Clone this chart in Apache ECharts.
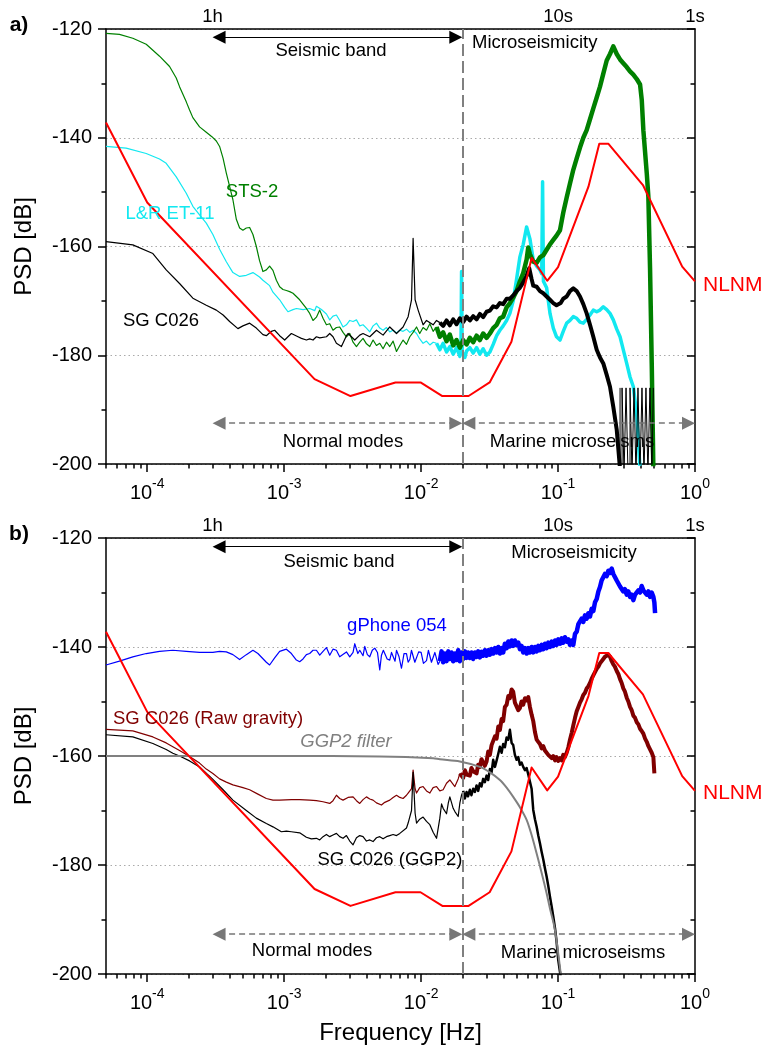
<!DOCTYPE html>
<html>
<head>
<meta charset="utf-8">
<script src="https://cdn.jsdelivr.net/npm/echarts@6.0.0/dist/echarts.min.js"></script>
<style>
html, body { margin: 0; padding: 0; background: #fff; }
#chart { width: 765px; height: 1050px; }
</style>
</head>
<body>
<div id="chart"></div>
<script>
var FONT = '"Liberation Sans", Arial, sans-serif';

// axes
var xMajorTicks = [1e-4, 1e-3, 1e-2, 1e-1, 1];
var xMinorTicks = [5e-5, 6e-5, 7e-5, 8e-5, 9e-5,
    2e-4, 3e-4, 4e-4, 5e-4, 6e-4, 7e-4, 8e-4, 9e-4,
    2e-3, 3e-3, 4e-3, 5e-3, 6e-3, 7e-3, 8e-3, 9e-3,
    2e-2, 3e-2, 4e-2, 5e-2, 6e-2, 7e-2, 8e-2, 9e-2,
    0.2, 0.3, 0.4, 0.5, 0.6, 0.7, 0.8, 0.9];
var periodTicks = [3e-4, 0.1, 1];
var periodLabels = ['1h', '10s', '1s'];
var bandEdges = [3e-4, 0.02];

// New Low Noise Model (both panels)
var nlnmFreq = [5e-5, 1e-4, 1.667e-3, 3.049e-3, 6.494e-3, 9.901e-3, 1.429e-2, 2.222e-2, 3.165e-2, 4.566e-2,
    6.410e-2, 8.333e-2, 0.1, 0.1667, 0.2, 0.2326, 0.4167, 0.8065, 1];
var nlnmPsd = [-137.2, -151.9, -184.4, -187.5, -185.0, -185.0, -187.5, -187.5, -185.0, -177.5,
    -162.1, -166.3, -163.8, -149.0, -141.1, -141.1, -148.7, -163.7, -166.4];

// panel a: STS-2
var sts2Low = [[5e-5,-120.8],[6.27e-5,-121.0],[7.85e-5,-121.7],[9.83e-5,-122.8],[1.10e-4,-123.9],[1.23e-4,-125.0],
    [1.456e-4,-126.9],[1.629e-4,-129.0],[1.722e-4,-130.6],[1.928e-4,-133.4],[2.038e-4,-134.9],[2.154e-4,-136.3],
    [2.411e-4,-138.0],[2.699e-4,-139.0],[2.966e-4,-139.8],[3.195e-4,-140.6],[3.377e-4,-141.6],[3.581e-4,-143.8],
    [3.781e-4,-146.5],[4.0e-4,-149.0],[4.224e-4,-151.4],[4.473e-4,-155.0],[4.728e-4,-156.6],[4.997e-4,-157.0],
    [5.292e-4,-156.6],[5.596e-4,-156.5],[5.915e-4,-157.8],[6.262e-4,-160.0],[6.61e-4,-162.6],[6.998e-4,-164.6],
    [7.41e-4,-164.3],[7.83e-4,-163.6],[8.28e-4,-164.4],[8.77e-4,-166.2],[9.27e-4,-167.4],[9.8e-4,-167.9],
    [1.038e-3,-168.1],[1.097e-3,-168.3],[1.16e-3,-168.6],[1.228e-3,-169.2],[1.298e-3,-169.8],[1.373e-3,-170.6],
    [1.453e-3,-171.4],[1.536e-3,-172.3],[1.624e-3,-173.6],[1.671e-3,-173.8],[1.72e-3,-173.0],[1.818e-3,-171.7],
    [1.922e-3,-173.2],[2.035e-3,-174.4],[2.151e-3,-174.2],[2.273e-3,-175.4],[2.407e-3,-174.9],[2.544e-3,-174.8],
    [2.69e-3,-175.8],[2.849e-3,-176.6],[3.012e-3,-176.0],[3.185e-3,-177.6],[3.372e-3,-178.4],[3.564e-3,-177.6],
    [3.767e-3,-176.9],[3.989e-3,-177.9],[4.217e-3,-178.4],[4.458e-3,-177.2],[4.72e-3,-178.2],[4.99e-3,-177.8],
    [5.275e-3,-178.8],[5.587e-3,-177.6],[5.904e-3,-178.4],[6.243e-3,-177.4],[6.611e-3,-179.3],[6.99e-3,-178.2],
    [7.385e-3,-177.2],[7.82e-3,-178.0],[8.27e-3,-176.6],[8.74e-3,-175.8],[9.26e-3,-174.8],[9.77e-3,-176.0],
    [1.034e-2,-174.9],[1.095e-2,-175.4],[1.158e-2,-174.2],[1.224e-2,-175.6],[1.296e-2,-174.8]];
var sts2High = [[1.296e-2,-174.8],[1.37e-2,-176.6],[1.448e-2,-175.8],[1.533e-2,-177.4],[1.621e-2,-176.2],[1.714e-2,-178.2],
    [1.815e-2,-177.2],[1.919e-2,-178.6],[2.028e-2,-177.2],[2.147e-2,-178.0],[2.27e-2,-176.8],[2.4e-2,-177.6],
    [2.541e-2,-176.4],[2.686e-2,-177.2],[2.839e-2,-176.0],[3.007e-2,-176.8],[3.178e-2,-176.0],[3.36e-2,-175.0],
    [3.561e-2,-174.4],[3.761e-2,-173.2],[3.975e-2,-172.9],[4.21e-2,-171.2],[4.45e-2,-170.4],[4.705e-2,-169.4],
    [4.981e-2,-168.2],[5.266e-2,-166.4],[5.567e-2,-164.9],[5.895e-2,-162.4],[6.056e-2,-160.2],[6.231e-2,-161.4],
    [6.59e-2,-162.8],[6.977e-2,-163.0],[7.375e-2,-162.0],[7.8e-2,-161.6],[8.25e-2,-160.6],[8.73e-2,-159.6],
    [9.23e-2,-158.8],[9.75e-2,-158.0],[0.1033,-157.0],[0.1091,-153.8],[0.1156,-151.0],[0.1222,-148.4],
    [0.1292,-145.9],[0.1368,-143.8],[0.1446,-141.8],[0.1529,-140.0],[0.1618,-138.6],[0.1711,-136.6],
    [0.1809,-134.6],[0.1915,-132.6],[0.2024,-130.6],[0.214,-128.2],[0.2266,-125.8],[0.2395,-124.6],
    [0.2532,-123.2],[0.2682,-124.6],[0.2836,-125.6],[0.2996,-126.3],[0.3172,-127.0],[0.3354,-127.8],
    [0.3546,-128.4],[0.3755,-129.2],[0.397,-130.2],[0.4084,-133.0],[0.4196,-138.6],[0.4443,-146.5],
    [0.4564,-150.8],[0.4696,-164.0],[0.4832,-181.5],[0.4966,-201]];

// panel a: L&R ET-11
var etLow = [[5e-5,-141.6],[7.02e-5,-141.9],[9.83e-5,-142.9],[1.23e-4,-143.9],[1.376e-4,-144.7],[1.629e-4,-147.2],
    [1.928e-4,-150.2],[2.154e-4,-152.6],[2.411e-4,-154.2],[2.699e-4,-155.7],[3.016e-4,-157.8],[3.377e-4,-160.5],
    [3.781e-4,-162.8],[4.224e-4,-164.8],[4.728e-4,-165.5],[5.292e-4,-165.3],[5.915e-4,-164.8],[6.61e-4,-165.6],
    [6.998e-4,-166.2],[7.83e-4,-167.2],[8.28e-4,-168.4],[9.27e-4,-169.8],[1.009e-3,-171.2],[1.066e-3,-172.0],
    [1.16e-3,-171.6],[1.228e-3,-171.4],[1.373e-3,-171.6],[1.536e-3,-171.4],[1.671e-3,-171.8],[1.72e-3,-171.0],
    [1.871e-3,-171.6],[2.035e-3,-172.4],[2.151e-3,-173.5],[2.273e-3,-172.8],[2.407e-3,-172.6],[2.544e-3,-173.6],
    [2.69e-3,-174.8],[2.849e-3,-174.4],[3.012e-3,-173.6],[3.185e-3,-173.8],[3.372e-3,-173.5],[3.564e-3,-174.6],
    [3.767e-3,-174.4],[3.989e-3,-175.0],[4.217e-3,-175.7],[4.458e-3,-174.6],[4.72e-3,-174.1],[4.99e-3,-175.0],
    [5.275e-3,-175.4],[5.587e-3,-174.9],[5.904e-3,-175.7],[6.243e-3,-175.4],[6.611e-3,-175.9],[6.99e-3,-175.4],
    [7.385e-3,-175.6],[7.82e-3,-175.2],[8.27e-3,-175.8],[8.74e-3,-175.4],[9.26e-3,-176.0],[9.77e-3,-177.0],
    [1.034e-2,-177.8],[1.095e-2,-177.4],[1.158e-2,-178.1],[1.224e-2,-177.6],[1.296e-2,-177.8]];
var etHigh = [[1.296e-2,-177.8],[1.37e-2,-179.0],[1.448e-2,-177.8],[1.533e-2,-179.4],[1.621e-2,-178.4],[1.714e-2,-179.8],
    [1.815e-2,-178.6],[1.919e-2,-180.2],[1.955e-2,-178.8],[1.974e-2,-164.6],[1.995e-2,-179.4],[2.088e-2,-180.4],
    [2.147e-2,-179.2],[2.27e-2,-178.6],[2.4e-2,-179.6],[2.541e-2,-178.6],[2.686e-2,-179.8],[2.839e-2,-178.8],
    [3.007e-2,-180.0],[3.178e-2,-179.4],[3.36e-2,-178.0],[3.561e-2,-176.4],[3.761e-2,-175.4],[3.975e-2,-174.6],
    [4.21e-2,-173.6],[4.45e-2,-172.3],[4.705e-2,-170.0],[4.981e-2,-166.0],[5.266e-2,-161.9],[5.567e-2,-159.6],
    [5.895e-2,-156.4],[6.231e-2,-158.6],[6.59e-2,-162.5],[6.977e-2,-163.6],[7.375e-2,-164.3],[7.6e-2,-165.0],
    [7.71e-2,-148.1],[7.82e-2,-166.4],[8.25e-2,-167.6],[8.73e-2,-172.3],[9.23e-2,-175.0],[9.75e-2,-176.6],
    [0.1033,-177.2],[0.1091,-175.6],[0.1156,-174.1],[0.1222,-173.6],[0.1292,-172.9],[0.1368,-173.2],
    [0.1446,-173.9],[0.1529,-174.1],[0.1618,-173.4],[0.1711,-172.6],[0.1809,-171.7],[0.1915,-172.0],
    [0.2024,-171.7],[0.214,-171.1],[0.2266,-171.6],[0.2395,-172.3],[0.2532,-173.5],[0.2682,-175.2],
    [0.2836,-176.6],[0.2996,-179.0],[0.3172,-181.5],[0.3354,-184.0],[0.3546,-185.8],[0.3755,-191.0],[0.397,-201]];

// panel a: SG C026
var sgLow = [[5e-5,-159.1],[7.85e-5,-159.7],[1.10e-4,-161.3],[1.376e-4,-164.3],[1.722e-4,-166.8],[2.154e-4,-169.5],
    [2.699e-4,-170.8],[3.195e-4,-171.7],[3.581e-4,-172.6],[3.996e-4,-173.8],[4.595e-4,-175.1],[4.997e-4,-174.6],
    [5.596e-4,-174.1],[6.262e-4,-175.0],[6.998e-4,-176.2],[7.41e-4,-176.4],[8.06e-4,-175.6],[8.52e-4,-175.4],
    [9.27e-4,-176.4],[1.009e-3,-177.2],[1.066e-3,-176.6],[1.129e-3,-176.0],[1.262e-3,-176.6],[1.336e-3,-176.9],
    [1.453e-3,-177.2],[1.536e-3,-177.0],[1.624e-3,-177.2],[1.72e-3,-176.6],[1.818e-3,-176.8],[2.035e-3,-176.6],
    [2.151e-3,-176.0],[2.273e-3,-176.6],[2.407e-3,-177.8],[2.619e-3,-178.4],[2.849e-3,-176.4],[2.927e-3,-176.0],
    [3.277e-3,-177.2],[3.564e-3,-176.3],[3.767e-3,-176.0],[4.217e-3,-176.6],[4.72e-3,-175.4],[5.275e-3,-176.3],
    [5.904e-3,-174.8],[6.611e-3,-176.0],[7.385e-3,-174.8],[8.04e-3,-172.9],[8.51e-3,-169.8],[8.74e-3,-158.5],
    [9.04e-3,-169.8],[9.51e-3,-171.7],[1.034e-2,-174.4],[1.095e-2,-173.6],[1.224e-2,-174.4],[1.296e-2,-173.6],
    [1.37e-2,-174.0]];
var sgHigh = [[1.37e-2,-174.0],[1.448e-2,-174.6],[1.533e-2,-173.6],[1.621e-2,-174.5],[1.714e-2,-173.4],[1.815e-2,-174.3],
    [1.919e-2,-173.2],[2.028e-2,-173.9],[2.147e-2,-172.9],[2.27e-2,-173.6],[2.4e-2,-172.8],[2.541e-2,-173.4],
    [2.686e-2,-172.4],[2.839e-2,-173.0],[3.007e-2,-172.0],[3.178e-2,-171.8],[3.36e-2,-171.0],[3.561e-2,-171.2],
    [3.761e-2,-170.4],[3.975e-2,-170.6],[4.21e-2,-169.6],[4.45e-2,-169.6],[4.705e-2,-169.0],[4.981e-2,-168.2],
    [5.266e-2,-167.6],[5.567e-2,-166.6],[5.895e-2,-165.4],[6.16e-2,-164.0],[6.412e-2,-166.0],[6.59e-2,-167.2],
    [6.977e-2,-167.4],[7.375e-2,-168.2],[7.8e-2,-168.6],[8.25e-2,-169.2],[8.73e-2,-169.8],[9.23e-2,-170.4],
    [9.75e-2,-170.8],[0.1003,-171.1],[0.1045,-170.4],[0.1091,-169.6],[0.1156,-169.2],[0.1222,-168.2],
    [0.1292,-167.7],[0.1368,-168.2],[0.1446,-169.2],[0.1529,-170.6],[0.1618,-172.3],[0.1711,-174.4],
    [0.1809,-176.6],[0.1915,-179.0],[0.2024,-180.4],[0.214,-181.5],[0.2266,-183.6],[0.2395,-185.8],
    [0.2532,-189.5],[0.2682,-193.7],[0.2836,-201]];
var sgComb = [[0.2836,-186],[0.2836,-202],[0.2933,-202],[0.2933,-186],[0.3033,-186],[0.3033,-202],[0.3136,-202],
    [0.3136,-186],[0.3243,-186],[0.3243,-202],[0.3354,-202],[0.3354,-186],[0.3468,-186],[0.3468,-202],
    [0.3586,-202],[0.3586,-186],[0.3708,-186],[0.3708,-202],[0.3834,-202],[0.3834,-186],[0.3965,-186],
    [0.3965,-202],[0.41,-202],[0.41,-186],[0.424,-186],[0.424,-202],[0.4384,-202],[0.4384,-186],
    [0.4533,-186],[0.4533,-202],[0.4688,-202],[0.4688,-186],[0.4848,-186],[0.4848,-202],[0.4966,-202],[0.4966,-186]];

// panel b: gPhone 054
var gphLow = [[5e-5,-143.3],[6.27e-5,-142.6],[7.85e-5,-141.8],[9.83e-5,-141.2],[1.23e-4,-140.8],[1.538e-4,-140.6],
    [1.928e-4,-140.8],[2.411e-4,-141.0],[3.016e-4,-141.0],[3.377e-4,-140.8],[3.781e-4,-140.9],[4.224e-4,-141.4],
    [4.728e-4,-142.3],[5.292e-4,-141.4],[5.915e-4,-140.6],[6.43e-4,-141.2],[7.41e-4,-142.8],[7.83e-4,-143.3],
    [8.52e-4,-142.0],[9.27e-4,-140.8],[1.038e-3,-140.4],[1.129e-3,-141.2],[1.228e-3,-142.4],[1.298e-3,-142.7],
    [1.373e-3,-142.2],[1.453e-3,-141.4],[1.536e-3,-141.2],[1.624e-3,-140.6],[1.72e-3,-140.6],[1.818e-3,-141.5],
    [1.871e-3,-141.5],[1.922e-3,-140.8],[2.035e-3,-140.1],[2.151e-3,-141.5],[2.273e-3,-140.4],[2.407e-3,-140.6],
    [2.544e-3,-141.8],[2.619e-3,-142.1],[2.849e-3,-140.9],[3.012e-3,-141.8],[3.185e-3,-141.0],[3.277e-3,-139.4],
    [3.45e-3,-141.2],[3.564e-3,-140.6],[3.767e-3,-141.6],[3.877e-3,-139.9],[4.05e-3,-141.4],[4.217e-3,-141.8],
    [4.4e-3,-140.6],[4.588e-3,-140.2],[4.8e-3,-141.0],[4.99e-3,-144.2],[5.134e-3,-141.5],[5.3e-3,-140.6],
    [5.428e-3,-140.9],[5.65e-3,-142.2],[5.904e-3,-142.4],[6.08e-3,-141.0],[6.243e-3,-141.0],[6.45e-3,-142.6],
    [6.611e-3,-140.6],[6.9e-3,-141.8],[7.19e-3,-143.9],[7.5e-3,-141.2],[7.82e-3,-141.2],[8.04e-3,-142.8],
    [8.27e-3,-142.3],[8.5e-3,-140.6],[8.74e-3,-140.8],[9.0e-3,-142.8],[9.26e-3,-142.6],[9.6e-3,-140.9],
    [1.0e-2,-141.0],[1.04e-2,-143.0],[1.095e-2,-142.5],[1.13e-2,-140.6],[1.158e-2,-140.9],[1.19e-2,-142.8],
    [1.224e-2,-143.0],[1.26e-2,-141.0],[1.296e-2,-141.2],[1.33e-2,-143.2],[1.37e-2,-142.6]];
var gphHigh = [[1.37e-2,-142.6],[1.41e-2,-140.8],[1.448e-2,-142.8],[1.49e-2,-141.2],[1.533e-2,-142.6],[1.58e-2,-140.8],
    [1.621e-2,-142.2],[1.67e-2,-141.0],[1.714e-2,-142.6],[1.765e-2,-141.2],[1.815e-2,-142.4],[1.865e-2,-140.6],
    [1.919e-2,-142.6],[1.974e-2,-141.0],[2.028e-2,-142.2],[2.088e-2,-140.8],[2.147e-2,-142.0],[2.2e-2,-141.0],
    [2.27e-2,-142.0],[2.33e-2,-141.0],[2.4e-2,-142.2],[2.47e-2,-141.0],[2.541e-2,-141.8],[2.61e-2,-140.8],
    [2.686e-2,-141.9],[2.76e-2,-140.9],[2.839e-2,-141.6],[2.92e-2,-140.6],[3.007e-2,-141.6],[3.09e-2,-140.6],
    [3.178e-2,-141.4],[3.27e-2,-140.4],[3.36e-2,-141.2],[3.46e-2,-140.2],[3.561e-2,-141.0],[3.66e-2,-140.0],
    [3.761e-2,-141.2],[3.87e-2,-140.2],[3.975e-2,-141.0],[4.09e-2,-139.4],[4.21e-2,-140.2],[4.33e-2,-139.0],
    [4.45e-2,-139.9],[4.58e-2,-138.8],[4.705e-2,-139.8],[4.84e-2,-138.8],[4.981e-2,-139.6],[5.12e-2,-139.2],
    [5.266e-2,-140.4],[5.41e-2,-139.8],[5.567e-2,-141.0],[5.73e-2,-140.2],[5.895e-2,-141.2],[6.06e-2,-140.2],
    [6.231e-2,-141.0],[6.41e-2,-140.0],[6.59e-2,-141.0],[6.78e-2,-140.0],[6.977e-2,-140.8],[7.17e-2,-139.8],
    [7.375e-2,-140.6],[7.59e-2,-139.6],[7.8e-2,-140.4],[8.02e-2,-139.4],[8.25e-2,-140.2],[8.48e-2,-139.2],
    [8.73e-2,-140.0],[8.98e-2,-139.0],[9.23e-2,-139.8],[9.5e-2,-138.8],[9.75e-2,-139.6],[0.1003,-138.6],
    [0.1033,-139.4],[0.1062,-138.4],[0.1091,-139.2],[0.1122,-138.2],[0.1156,-139.0],[0.1189,-138.6],
    [0.1222,-139.6],[0.1256,-138.8],[0.1292,-139.6],[0.133,-137.6],[0.1368,-137.2],[0.1407,-135.8],
    [0.1446,-136.0],[0.1487,-134.8],[0.1529,-135.4],[0.1573,-134.2],[0.1618,-134.8],[0.1664,-133.8],
    [0.1711,-134.4],[0.176,-133.0],[0.1809,-133.4],[0.1861,-131.8],[0.1915,-131.2],[0.197,-129.8],
    [0.2024,-129.0],[0.208,-127.8],[0.214,-127.8],[0.22,-126.6],[0.2266,-127.0],[0.233,-126.0],
    [0.2395,-126.4],[0.2465,-125.6],[0.2532,-126.6],[0.26,-126.8],[0.2682,-127.8],[0.276,-127.6],
    [0.2836,-128.9],[0.2915,-128.6],[0.2996,-129.8],[0.308,-129.4],[0.3172,-130.4],[0.326,-129.8],
    [0.3354,-130.8],[0.345,-130.4],[0.3546,-131.4],[0.365,-130.4],[0.3755,-130.6],[0.386,-129.6],
    [0.397,-130.0],[0.408,-128.8],[0.4196,-129.6],[0.432,-129.4],[0.4443,-130.4],[0.457,-129.8],
    [0.4696,-130.8],[0.483,-130.0],[0.4966,-130.8],[0.505,-131.8],[0.511,-133.8]];

// panel b: GGP2 filter response
var ggp2Filter = [[5e-5,-160.0],[1e-3,-160.0],[5e-3,-160.1],[1.224e-2,-160.4],[1.37e-2,-160.6],[1.919e-2,-161.0],
    [2.686e-2,-162.0],[3.178e-2,-163.0],[3.761e-2,-164.4],[4.21e-2,-165.8],[4.705e-2,-167.5],[5.266e-2,-169.4],
    [5.895e-2,-171.7],[6.412e-2,-174.5],[6.977e-2,-177.9],[7.6e-2,-181.5],[8.25e-2,-185.2],[8.73e-2,-188.0],
    [9.49e-2,-191.9],[0.1045,-199.9]];

// panel b: SG C026 raw gravity
var rawLow = [[5e-5,-155.1],[7.85e-5,-155.4],[1.10e-4,-156.5],[1.376e-4,-157.6],[1.538e-4,-158.3],[1.722e-4,-159.0],
    [2.038e-4,-160.1],[2.411e-4,-161.3],[2.699e-4,-162.4],[3.016e-4,-163.2],[3.377e-4,-164.2],[3.781e-4,-164.8],
    [4.224e-4,-165.3],[4.997e-4,-165.8],[5.596e-4,-166.2],[6.43e-4,-167.0],[7.41e-4,-167.8],[8.28e-4,-168.1],
    [9.27e-4,-168.1],[1.129e-3,-168.0],[1.298e-3,-168.0],[1.536e-3,-168.1],[1.72e-3,-168.2],[1.922e-3,-168.4],
    [2.151e-3,-168.7],[2.273e-3,-168.2],[2.407e-3,-167.2],[2.544e-3,-167.8],[2.69e-3,-168.1],[2.927e-3,-167.6],
    [3.185e-3,-167.5],[3.372e-3,-168.2],[3.564e-3,-168.7],[3.767e-3,-168.0],[3.989e-3,-167.5],[4.217e-3,-167.9],
    [4.458e-3,-168.1],[4.72e-3,-168.6],[5.134e-3,-169.0],[5.428e-3,-168.5],[5.904e-3,-168.1],[6.243e-3,-167.6],
    [6.611e-3,-167.2],[6.99e-3,-167.6],[7.385e-3,-167.8],[7.82e-3,-167.2],[8.04e-3,-166.8],[8.51e-3,-166.0],
    [8.74e-3,-162.6],[9.04e-3,-166.0],[9.26e-3,-166.8],[9.77e-3,-165.8],[1.034e-2,-165.6],[1.095e-2,-166.4],
    [1.158e-2,-166.8],[1.224e-2,-165.8],[1.296e-2,-165.6],[1.37e-2,-166.4],[1.448e-2,-166.2],[1.533e-2,-165.0],
    [1.621e-2,-164.4],[1.714e-2,-165.2],[1.764e-2,-165.6],[1.865e-2,-164.2],[1.919e-2,-163.2]];
var rawHigh = [[1.919e-2,-163.2],[2.028e-2,-164.0],[2.088e-2,-162.6],[2.147e-2,-163.4],[2.27e-2,-163.6],[2.33e-2,-162.2],
    [2.4e-2,-162.8],[2.541e-2,-163.2],[2.61e-2,-161.6],[2.686e-2,-162.0],[2.76e-2,-160.6],[2.839e-2,-160.9],
    [2.92e-2,-161.8],[3.007e-2,-161.0],[3.09e-2,-159.2],[3.178e-2,-159.8],[3.27e-2,-158.0],[3.36e-2,-157.9],
    [3.46e-2,-156.4],[3.561e-2,-156.8],[3.66e-2,-154.6],[3.761e-2,-155.2],[3.87e-2,-153.2],[3.975e-2,-153.6],
    [4.09e-2,-151.0],[4.21e-2,-150.6],[4.33e-2,-149.0],[4.45e-2,-149.4],[4.58e-2,-147.8],[4.705e-2,-148.2],
    [4.84e-2,-150.2],[4.981e-2,-150.4],[5.12e-2,-151.6],[5.266e-2,-151.2],[5.41e-2,-150.0],[5.567e-2,-150.6],
    [5.73e-2,-149.4],[5.895e-2,-149.8],[6.06e-2,-149.2],[6.231e-2,-151.0],[6.41e-2,-152.4],[6.59e-2,-153.6],
    [6.78e-2,-155.6],[6.977e-2,-157.0],[7.17e-2,-157.4],[7.375e-2,-157.8],[7.59e-2,-158.6],[7.8e-2,-158.2],
    [8.02e-2,-159.0],[8.25e-2,-158.9],[8.48e-2,-159.8],[8.73e-2,-159.6],[8.98e-2,-160.4],[9.23e-2,-160.0],
    [9.5e-2,-160.8],[9.75e-2,-160.2],[0.1003,-160.9],[0.1033,-160.4],[0.1062,-160.8],[0.1091,-159.8],
    [0.1122,-160.2],[0.1156,-159.4],[0.1189,-158.4],[0.1222,-157.0],[0.1256,-155.8],[0.1292,-154.4],
    [0.133,-153.0],[0.1368,-151.8],[0.1407,-151.0],[0.1446,-150.2],[0.1487,-149.6],[0.1529,-148.8],
    [0.1573,-148.4],[0.1618,-147.6],[0.1664,-147.2],[0.1711,-146.6],[0.176,-145.8],[0.1809,-145.2],
    [0.1861,-144.6],[0.1915,-144.0],[0.197,-143.6],[0.2024,-143.0],[0.208,-142.8],[0.214,-142.2],
    [0.22,-141.8],[0.2266,-141.6],[0.233,-141.4],[0.2395,-141.8],[0.2465,-142.6],[0.2532,-143.2],
    [0.26,-143.6],[0.2682,-144.4],[0.276,-145.0],[0.2836,-145.9],[0.2915,-146.6],[0.2996,-147.6],
    [0.308,-148.2],[0.3172,-149.3],[0.326,-150.0],[0.3354,-151.0],[0.345,-151.6],[0.3546,-152.6],
    [0.365,-153.0],[0.3755,-153.8],[0.386,-154.2],[0.397,-155.0],[0.408,-155.4],[0.4196,-155.9],
    [0.432,-156.8],[0.4443,-157.4],[0.457,-158.2],[0.4696,-158.8],[0.483,-159.4],[0.4966,-160.2],[0.505,-163.2]];

// panel b: SG C026 after GGP2 filter
var ggpLow = [[5e-5,-156.1],[7.85e-5,-156.5],[1.10e-4,-157.7],[1.376e-4,-158.8],[1.538e-4,-159.5],[1.722e-4,-160.0],
    [2.038e-4,-160.9],[2.411e-4,-162.0],[2.966e-4,-164.1],[3.581e-4,-166.2],[4.224e-4,-168.1],[5.292e-4,-170.0],
    [6.262e-4,-171.4],[7.41e-4,-172.4],[8.28e-4,-173.0],[9.54e-4,-173.9],[1.038e-3,-173.8],[1.129e-3,-173.9],
    [1.298e-3,-174.1],[1.453e-3,-174.9],[1.58e-3,-175.2],[1.72e-3,-175.1],[1.818e-3,-175.4],[1.922e-3,-174.8],
    [2.035e-3,-174.4],[2.151e-3,-174.8],[2.273e-3,-174.5],[2.407e-3,-174.2],[2.544e-3,-174.8],[2.69e-3,-175.1],
    [2.849e-3,-174.6],[3.012e-3,-175.6],[3.185e-3,-176.3],[3.372e-3,-175.0],[3.564e-3,-174.6],[3.767e-3,-174.8],
    [3.989e-3,-175.6],[4.217e-3,-175.4],[4.458e-3,-175.7],[4.72e-3,-175.0],[4.99e-3,-174.8],[5.275e-3,-175.2],
    [5.587e-3,-174.8],[5.904e-3,-174.6],[6.243e-3,-174.4],[6.611e-3,-174.6],[6.99e-3,-174.2],[7.19e-3,-173.9],
    [7.82e-3,-173.2],[8.04e-3,-172.3],[8.51e-3,-170.0],[8.74e-3,-163.0],[9.04e-3,-170.5],[9.26e-3,-172.3],
    [9.77e-3,-171.6],[1.0e-2,-171.7],[1.034e-2,-171.2],[1.095e-2,-172.0],[1.158e-2,-172.6],[1.224e-2,-174.0],
    [1.296e-2,-175.1],[1.37e-2,-171.4],[1.41e-2,-168.8],[1.448e-2,-169.6],[1.533e-2,-170.6],[1.58e-2,-168.6],
    [1.621e-2,-167.5],[1.67e-2,-168.6],[1.714e-2,-169.6],[1.765e-2,-170.2],[1.865e-2,-171.1],[1.919e-2,-168.6],
    [1.974e-2,-167.2],[2.028e-2,-166.4]];
var ggpHigh = [[2.028e-2,-166.4],[2.088e-2,-167.8],[2.147e-2,-166.6],[2.2e-2,-167.4],[2.27e-2,-166.2],[2.33e-2,-167.2],
    [2.4e-2,-166.0],[2.47e-2,-166.6],[2.541e-2,-165.4],[2.61e-2,-166.4],[2.686e-2,-165.0],[2.76e-2,-165.6],
    [2.839e-2,-164.2],[2.92e-2,-164.8],[3.007e-2,-163.6],[3.09e-2,-164.4],[3.178e-2,-162.4],[3.27e-2,-163.0],
    [3.36e-2,-160.7],[3.46e-2,-162.0],[3.561e-2,-160.8],[3.66e-2,-159.6],[3.761e-2,-158.3],[3.87e-2,-159.4],
    [3.975e-2,-157.8],[4.09e-2,-158.4],[4.21e-2,-156.6],[4.33e-2,-157.0],[4.45e-2,-155.2],[4.58e-2,-157.6],
    [4.705e-2,-158.0],[4.84e-2,-159.8],[4.981e-2,-160.7],[5.12e-2,-160.2],[5.266e-2,-161.6],[5.41e-2,-161.2],
    [5.567e-2,-162.0],[5.73e-2,-162.6],[5.895e-2,-162.2],[6.06e-2,-163.4],[6.231e-2,-163.2],[6.41e-2,-166.0],
    [6.59e-2,-169.9],[6.78e-2,-171.6],[6.977e-2,-173.0],[7.17e-2,-174.6],[7.375e-2,-176.0],[7.59e-2,-177.6],
    [7.8e-2,-179.0],[8.02e-2,-180.6],[8.25e-2,-182.1],[8.48e-2,-183.8],[8.73e-2,-185.8],[8.98e-2,-187.6],
    [9.23e-2,-189.5],[9.5e-2,-191.6],[9.75e-2,-194.0],[0.1003,-197.4],[0.1045,-200.5]];

var FMIN = 5e-5, FMAX = 1;
var nlnm = nlnmFreq.map(function (f, i) { return [f, nlnmPsd[i]]; });

var lineBlack = { color: '#000', width: 1.5 };

function decadeLabel(v) {
    return '{b|10}{s|' + Math.round(Math.log10(v)) + '}';
}
function periodLabel(v) {
    var best = 0;
    for (var i = 1; i < periodTicks.length; i++) {
        if (Math.abs(Math.log10(periodTicks[i] / v)) < Math.abs(Math.log10(periodTicks[best] / v))) best = i;
    }
    return periodLabels[best];
}

function xAxesFor(grid, withName) {
    return [{
        type: 'log', logBase: 10, gridIndex: grid, min: FMIN, max: FMAX, position: 'bottom',
        axisLine: { show: true, onZero: false, lineStyle: lineBlack },
        axisTick: { show: true, length: 8, customValues: xMajorTicks, lineStyle: lineBlack },
        axisLabel: {
            show: true, customValues: xMajorTicks, margin: 13, formatter: decadeLabel,
            rich: {
                b: { fontSize: 20, fontFamily: FONT, color: '#000', verticalAlign: 'bottom', lineHeight: 26 },
                s: { fontSize: 14, fontFamily: FONT, color: '#000', verticalAlign: 'top', lineHeight: 26 }
            }
        },
        splitLine: { show: false },
        name: withName ? 'Frequency [Hz]' : '', nameLocation: 'middle', nameGap: 47,
        nameTextStyle: { fontSize: 24, color: '#000', fontFamily: FONT }
    }, {
        type: 'log', logBase: 10, gridIndex: grid, min: FMIN, max: FMAX, position: 'bottom',
        axisLine: { show: false },
        axisTick: { show: true, length: 4.5, customValues: xMinorTicks, lineStyle: lineBlack },
        axisLabel: { show: false },
        splitLine: { show: false }
    }, {
        type: 'log', logBase: 10, gridIndex: grid, min: FMIN, max: FMAX, position: 'top',
        axisLine: { show: true, onZero: false, lineStyle: lineBlack },
        axisTick: { show: false },
        axisLabel: { show: true, customValues: periodTicks, margin: 3, formatter: periodLabel,
            fontSize: 18.5, fontFamily: FONT, color: '#000' },
        splitLine: { show: false }
    }];
}

function yAxesFor(grid) {
    return [{
        type: 'value', gridIndex: grid, position: 'left', min: -200, max: -120, interval: 20,
        axisLine: { show: true, onZero: false, lineStyle: lineBlack },
        axisTick: { show: true, length: 8, lineStyle: lineBlack },
        minorTick: { show: true, splitNumber: 2, length: 4.5, lineStyle: lineBlack },
        axisLabel: { fontSize: 20, fontFamily: FONT, color: '#000', margin: 14 },
        splitLine: { show: true, lineStyle: { color: '#aaa', width: 1, type: [1.5, 3] } },
        name: 'PSD [dB]', nameLocation: 'middle', nameGap: 70,
        nameTextStyle: { fontSize: 24, color: '#000', fontFamily: FONT }
    }, {
        type: 'value', gridIndex: grid, position: 'right', min: -200, max: -120, interval: 20,
        axisLine: { show: true, onZero: false, lineStyle: lineBlack },
        axisTick: { show: true, inside: true, length: 8, lineStyle: lineBlack },
        minorTick: { show: true, splitNumber: 2, length: 4.5, lineStyle: lineBlack },
        axisLabel: { show: false },
        splitLine: { show: false }
    }];
}

function curve(data, color, width, grid, extra) {
    var s = {
        type: 'line', data: data, xAxisIndex: grid * 3, yAxisIndex: grid * 2,
        symbol: 'none', showSymbol: false, silent: true, animation: false,
        lineStyle: { color: color, width: width, join: 'round' }
    };
    if (extra) for (var k in extra) s[k] = extra[k];
    return s;
}

function guides(yTop, yBottom) {
    var dash = { color: '#808080', width: 2, type: [12, 5] };
    var solidArrow = { color: '#000', width: 1.2, type: 'solid' };
    var dashArrow = { color: '#777', width: 1.5, type: [6, 4] };
    function arrow(f0, f1, y, ls) {
        return [
            { coord: [f0, y], symbol: 'triangle', symbolSize: 13, lineStyle: ls, itemStyle: { color: ls.color } },
            { coord: [f1, y], symbol: 'triangle', symbolSize: 13, lineStyle: ls, itemStyle: { color: ls.color } }
        ];
    }
    return {
        silent: true, animation: false, symbol: ['none', 'none'], label: { show: false },
        data: [
            { xAxis: bandEdges[0], lineStyle: dash },
            { xAxis: bandEdges[1], lineStyle: dash },
            arrow(bandEdges[0] * 1.116, bandEdges[1] / 1.116, yTop, solidArrow),
            arrow(bandEdges[0] * 1.116, bandEdges[1] / 1.116, yBottom, dashArrow),
            arrow(bandEdges[1] * 1.116, FMAX / 1.116, yBottom, dashArrow)
        ]
    };
}

function label(x, y, text, color, font, align) {
    return {
        type: 'text', x: x, y: y, z: 100, silent: true,
        style: {
            text: text, fill: color, font: font,
            align: align || 'center', verticalAlign: 'middle',
            textAlign: align || 'center', textVerticalAlign: 'middle'
        }
    };
}

var F18 = '18.5px ' + FONT;
var F21 = '21px ' + FONT;

var option = {
    backgroundColor: '#fff',
    animation: false,
    grid: [
        { left: 106, top: 29, width: 589, height: 435 },
        { left: 106, top: 538, width: 589, height: 436 }
    ],
    xAxis: xAxesFor(0, false).concat(xAxesFor(1, true)),
    yAxis: yAxesFor(0).concat(yAxesFor(1)),
    series: [
        curve(etLow, '#12e8f0', 1.2, 0),
        curve(etHigh, '#12e8f0', 3.5, 0),
        curve(sts2Low, '#008000', 1.2, 0),
        curve(sts2High, '#008000', 4.5, 0),
        curve(sgLow, '#000', 1.2, 0),
        curve(sgHigh, '#000', 4, 0),
        curve(sgComb, '#000', 1, 0),
        curve(nlnm, '#ff0000', 2, 0, { markLine: guides(-121.5, -192.5) }),

        curve(gphLow, '#0000ff', 1.2, 1),
        curve(gphHigh, '#0000ff', 4.5, 1),
        curve(rawLow, '#800000', 1.2, 1),
        curve(rawHigh, '#800000', 4, 1),
        curve(ggpLow, '#000', 1.2, 1),
        curve(ggpHigh, '#000', 2.5, 1),
        curve(ggp2Filter, '#808080', 2, 1, { smooth: 0.3 }),
        curve(nlnm, '#ff0000', 2, 1, { markLine: guides(-121.6, -192.7) })
    ],
    graphic: [
        label(19, 25, 'a)', '#000', 'bold 21px ' + FONT),
        label(331, 51, 'Seismic band', '#000', F18),
        label(472, 43, 'Microseismicity', '#000', F18, 'left'),
        label(343, 442, 'Normal modes', '#000', F18),
        label(572, 442, 'Marine microseisms', '#000', F18),
        label(252, 192, 'STS-2', '#008000', F18),
        label(170, 214, 'L&R ET-11', '#12e8f0', F18),
        label(161, 321, 'SG C026', '#000', F18),
        label(703, 285, 'NLNM', '#ff0000', F21, 'left'),

        label(19, 534, 'b)', '#000', 'bold 21px ' + FONT),
        label(339, 562, 'Seismic band', '#000', F18),
        label(574, 553, 'Microseismicity', '#000', F18),
        label(312, 951, 'Normal modes', '#000', F18),
        label(583, 953, 'Marine microseisms', '#000', F18),
        label(397, 626, 'gPhone 054', '#0000ff', F18),
        label(208, 719, 'SG C026 (Raw gravity)', '#800000', F18),
        label(346, 742, 'GGP2 filter', '#808080', 'italic ' + F18),
        label(390, 860, 'SG C026 (GGP2)', '#000', F18),
        label(703, 793, 'NLNM', '#ff0000', F21, 'left')
    ]
};

var chart = echarts.init(document.getElementById('chart'));
chart.setOption(option);
</script>
</body>
</html>
